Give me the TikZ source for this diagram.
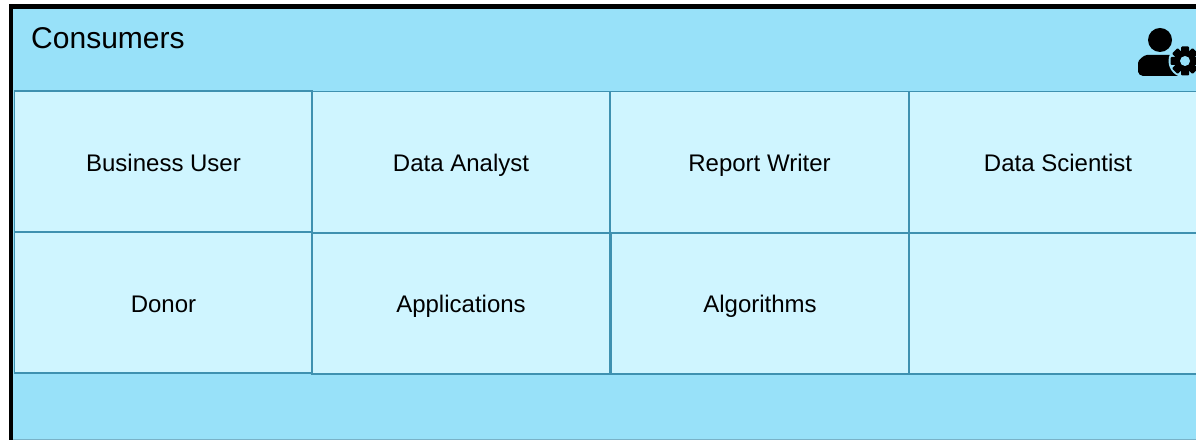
\documentclass[tikz,border=0pt]{standalone}
\usepackage{fontspec}
\setmainfont{Liberation Sans}
\definecolor{panelblue}{HTML}{98E1F9}
\definecolor{cellblue}{HTML}{CFF5FF}
\definecolor{linkteal}{HTML}{3F91B0}
\tikzset{
  cell/.style={draw=linkteal, line width=0.45pt, fill=cellblue, minimum width=2.98cm, minimum height=1.41cm,
    inner sep=0pt, text height=5.3pt, text depth=0pt, font=\fontsize{6.83}{8}\selectfont},
  lowcell/.style={cell, text height=5.9pt},
  title/.style={anchor=base west, inner sep=0pt, font=\fontsize{8.54}{10}\selectfont}
}
\begin{document}
\begin{tikzpicture}[scale=1, transform shape]
  \useasboundingbox (0.0,0.0) rectangle (11.96,4.40);
  % panel
  \fill[panelblue] (0.13,0.01) rectangle (12.1,4.31);
  \draw[linkteal!70, line width=0.3pt] (0.13,0.005) -- (11.96,0.005);
  \draw[black, line width=1.3pt] (0.108,-0.2) -- (0.108,4.335) -- (12.1,4.335);
  \node[title] (consumers) at (0.305,3.91) {Consumers};
  % first row
  \node[lowcell] (business) at (1.635,2.785) {Business User};
  \node[cell] (analyst) at (4.61,2.78) {Data Analyst};
  \node[cell] (writer) at (7.595,2.78) {Report Writer};
  \node[cell] (scientist) at (10.58,2.78) {Data Scientist};
  % second row
  \node[lowcell] (donor) at (1.635,1.375) {Donor};
  \node[cell] (applications) at (4.61,1.365) {Applications};
  \node[cell] (algorithms) at (7.60,1.365) {Algorithms};
  \node[cell] (blank) at (10.58,1.365) {};
  % person with gear
  \fill (11.60,4.00) circle (0.12);
  \fill[rounded corners=0.05cm] (11.38,3.64) -- (11.38,3.72) .. controls (11.38,3.80) and (11.44,3.85) .. (11.52,3.85)
    -- (11.68,3.85) .. controls (11.76,3.85) and (11.84,3.78) .. (11.84,3.70) -- (11.84,3.64) -- cycle;
  \fill[panelblue] (11.85,3.79) circle (0.165);
  \fill (11.85,3.79) circle (0.11);
  \foreach \a in {0,45,...,315}
    \fill[rotate around={\a:(11.85,3.79)},rounded corners=0.01cm] (11.81,3.79) rectangle (11.89,3.935);
  \fill[panelblue] (11.85,3.79) circle (0.05);
\end{tikzpicture}
\end{document}
